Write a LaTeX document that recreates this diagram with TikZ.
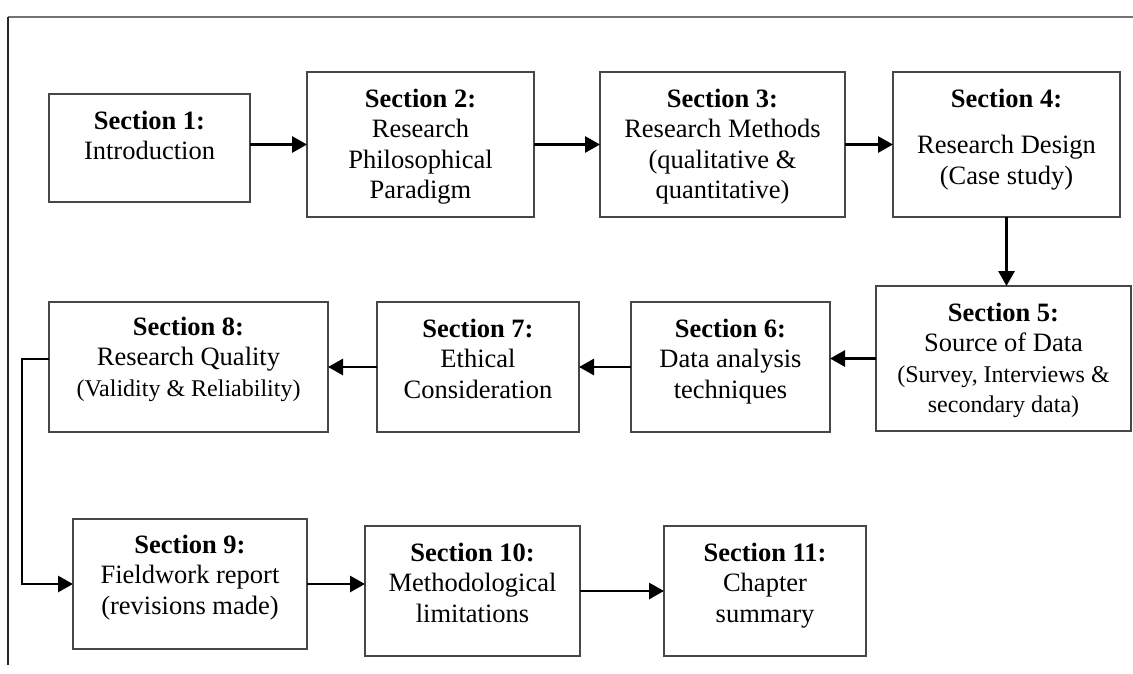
\documentclass[tikz,border=0pt]{standalone}
\usepackage{fontspec}
\setmainfont{Liberation Serif}
\usetikzlibrary{arrows.meta}
\begin{document}
\begin{tikzpicture}[x=1pt,y=-1pt,
  stage/.style={draw=black!72, line width=1.2pt, rectangle, inner sep=0pt, outer sep=0pt},
  stagetext/.style={anchor=north, inner sep=0pt, align=center,
    font=\fontsize{26.5}{30.5}\selectfont},
  flow/.style={line width=2.9pt, -{Triangle[length=15pt,width=16pt]}},
  link/.style={line width=1.3pt},
  topframe/.style={draw=black!55, line width=1.4pt},
  sideframe/.style={draw=black!85, line width=1.1pt}]
\useasboundingbox (0,0) rectangle (1133,673);

% page frame (top and left edges only)
\draw[topframe] (8,17) -- (1133,17);
\draw[sideframe] (8,17) -- (8,665);

% boxes
\node[stage, minimum width=201pt, minimum height=108pt] (b1) at (149.5,148) {};
\node[stage, minimum width=227pt, minimum height=145pt] (b2) at (420.5,144.5) {};
\node[stage, minimum width=245pt, minimum height=145pt] (b3) at (722.5,144.5) {};
\node[stage, minimum width=227pt, minimum height=145pt] (b4) at (1006.5,144.5) {};
\node[stage, minimum width=255pt, minimum height=145pt] (b5) at (1003.5,358.5) {};
\node[stage, minimum width=199pt, minimum height=130pt] (b6) at (730.5,367) {};
\node[stage, minimum width=202pt, minimum height=130pt] (b7) at (478,367) {};
\node[stage, minimum width=279pt, minimum height=130pt] (b8) at (188.5,367) {};
\node[stage, minimum width=234pt, minimum height=130pt] (b9) at (190,584) {};
\node[stage, minimum width=215pt, minimum height=130pt] (b10) at (472.5,591) {};
\node[stage, minimum width=202pt, minimum height=130pt] (b11) at (765,591) {};

% box texts
\node[stagetext] (t1) at ([yshift=-15pt]b1.north)
  {\rule{0pt}{20pt}\textbf{Section 1:}\\Introduction};
\node[stagetext] (t2) at ([yshift=-15pt]b2.north)
  {\rule{0pt}{20pt}\textbf{Section 2:}\\Research\\Philosophical\\Paradigm};
\node[stagetext] (t3) at ([yshift=-15pt]b3.north)
  {\rule{0pt}{20pt}\textbf{Section 3:}\\Research Methods\\(qualitative \&\\quantitative)};
\node[stagetext] (t4) at ([yshift=-15pt]b4.north)
  {\rule{0pt}{20pt}\textbf{Section 4:}\\[16pt]Research Design\\(Case study)};
\node[stagetext] (t5) at ([yshift=-15pt]b5.north)
  {\rule{0pt}{20pt}\textbf{Section 5:}\\Source of Data\\
   {\fontsize{24}{30}\selectfont (Survey, Interviews \&}\\
   {\fontsize{24}{30}\selectfont secondary data)}};
\node[stagetext] (t6) at ([yshift=-15pt]b6.north)
  {\rule{0pt}{20pt}\textbf{Section 6:}\\Data analysis\\techniques};
\node[stagetext] (t7) at ([yshift=-15pt]b7.north)
  {\rule{0pt}{20pt}\textbf{Section 7:}\\Ethical\\Consideration};
\node[stagetext] (t8) at ([yshift=-13pt]b8.north)
  {\rule{0pt}{20pt}\textbf{Section 8:}\\Research Quality\\
   {\fontsize{24}{30}\selectfont (Validity \& Reliability)}};
\node[stagetext] (t9) at ([yshift=-14pt]b9.north)
  {\rule{0pt}{20pt}\textbf{Section 9:}\\Fieldwork report\\(revisions made)};
\node[stagetext] (t10) at ([yshift=-15pt]b10.north)
  {\rule{0pt}{20pt}\textbf{Section 10:}\\Methodological\\limitations};
\node[stagetext] (t11) at ([yshift=-15pt]b11.north)
  {\rule{0pt}{20pt}\textbf{Section 11:}\\Chapter\\summary};

% connectors
\draw[flow] (b1.east |- b2.west) -- (b2.west);
\draw[flow] (b2.east) -- (b3.west);
\draw[flow] (b3.east) -- (b4.west);
\draw[flow] (b4.south) -- (b4.south |- b5.north);
\draw[flow] (b5.west) -- (b5.west -| b6.east);
\draw[flow] (b6.west) -- (b7.east);
\draw[flow] (b7.west) -- (b8.east);
\coordinate (k1) at (22,359);
\coordinate (k2) at (22,432);
\draw[link] (b8.west |- k1) -- (k1) -- (k2);
\draw[flow] (k2) |- (b9.west);
\draw[flow] (b9.east) -- (b9.east -| b10.west);
\draw[flow] (b10.east) -- (b11.west);
\end{tikzpicture}
\end{document}
